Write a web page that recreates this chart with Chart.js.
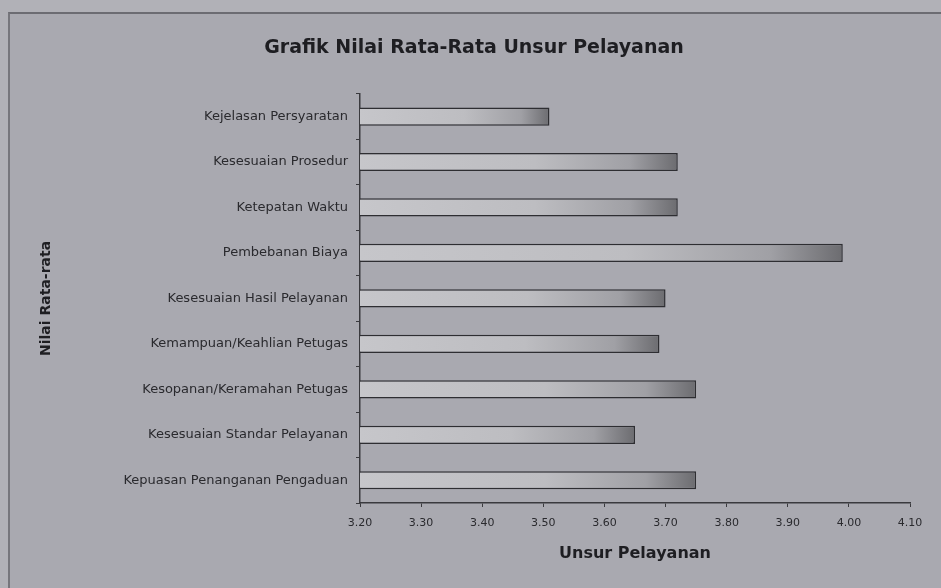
<!DOCTYPE html>
<html>
<head>
<meta charset="utf-8">
<script src="https://cdn.jsdelivr.net/npm/chart.js@4"></script>
<style>
  html, body { margin: 0; padding: 0; background: #b1b1b7; }
  #wrap { position: relative; width: 941px; height: 588px; }
  #frame { position: absolute; left: 8px; top: 12px; right: 0; bottom: 0;
           border-left: 2px solid #76767c; border-top: 2px solid #6c6c72; pointer-events: none; }
</style>
</head>
<body>
<div id="wrap">
  <canvas id="c" width="941" height="588"></canvas>
  <div id="frame"></div>
</div>
<script>
const categories = [
  "Kejelasan Persyaratan",
  "Kesesuaian Prosedur",
  "Ketepatan Waktu",
  "Pembebanan Biaya",
  "Kesesuaian Hasil Pelayanan",
  "Kemampuan/Keahlian Petugas",
  "Kesopanan/Keramahan Petugas",
  "Kesesuaian Standar Pelayanan",
  "Kepuasan Penanganan Pengaduan"
];
const values = [3.51, 3.72, 3.72, 3.99, 3.70, 3.69, 3.75, 3.65, 3.75];
const xMin = 3.20, xMax = 4.10, xStep = 0.10;
const titleText = "Grafik Nilai Rata-Rata Unsur Pelayanan";
const xTitle = "Unsur Pelayanan";
const yTitle = "Nilai Rata-rata";

const bgPlugin = {
  id: 'bg',
  beforeDraw(chart) {
    const ctx = chart.ctx;
    ctx.save();
    ctx.fillStyle = '#b1b1b7';
    ctx.fillRect(0, 0, chart.width, chart.height);
    ctx.fillStyle = '#a9a9b0';
    ctx.fillRect(9, 13, chart.width - 9, chart.height - 13);
    ctx.restore();
  }
};

function barFill(context) {
  const chart = context.chart;
  const area = chart.chartArea;
  if (!area || !chart.scales.x) return '#b4b4b8';
  const xs = chart.scales.x;
  const x0 = xs.getPixelForValue(xMin);
  const v = context.raw;
  const x1 = xs.getPixelForValue(v);
  if (!isFinite(x1) || x1 <= x0 + 1) return '#b4b4b8';
  const g = chart.ctx.createLinearGradient(x0, 0, x1, 0);
  g.addColorStop(0, '#c6c6ca');
  g.addColorStop(0.55, '#bdbdc1');
  g.addColorStop(0.85, '#a0a0a5');
  g.addColorStop(1, '#6c6c70');
  return g;
}

new Chart(document.getElementById('c'), {
  type: 'bar',
  data: {
    labels: categories,
    datasets: [{
      data: values,
      backgroundColor: barFill,
      borderColor: '#2e2e32',
      borderWidth: 1.5,
      borderSkipped: false,
      barPercentage: 0.4,
      categoryPercentage: 1.0
    }]
  },
  plugins: [bgPlugin],
  options: {
    indexAxis: 'y',
    responsive: false,
    animation: false,
    layout: { padding: { top: 29, right: 31, bottom: 25, left: 38 } },
    plugins: {
      legend: { display: false },
      tooltip: { enabled: false },
      title: {
        display: true,
        text: titleText,
        color: '#1e1e22',
        font: { family: 'DejaVu Sans', size: 19, weight: 'bold' },
        padding: { top: 8, bottom: 34 }
      }
    },
    scales: {
      x: {
        type: 'linear',
        min: xMin, max: xMax,
        ticks: {
          stepSize: xStep,
          color: '#2a2a2e',
          font: { family: 'DejaVu Sans', size: 11 },
          padding: 10,
          callback: v => Number(v).toFixed(2)
        },
        grid: { display: true, drawOnChartArea: false, drawTicks: true, tickLength: 4, color: '#3a3a3e' },
        border: { display: true, color: '#3a3a3e', width: 1.5 },
        title: {
          display: true, text: xTitle, color: '#1e1e22',
          font: { family: 'DejaVu Sans', size: 16, weight: 'bold' },
          padding: { top: 12, bottom: 0 }
        },
        afterFit(scale) { scale.height = 60; }
      },
      y: {
        type: 'category',
        offset: true,
        ticks: {
          color: '#2a2a2e',
          font: { family: 'DejaVu Sans', size: 13 },
          padding: 8
        },
        grid: { display: true, offset: true, drawOnChartArea: false, drawTicks: true, tickLength: 4, color: '#3a3a3e' },
        border: { display: true, color: '#3a3a3e', width: 1.5 },
        title: {
          display: true, text: yTitle, color: '#1e1e22',
          font: { family: 'DejaVu Sans', size: 14, weight: 'bold' },
          padding: 0
        },
        afterFit(scale) { scale.width = 360 - 38; }
      }
    }
  }
});
</script>
</body>
</html>
